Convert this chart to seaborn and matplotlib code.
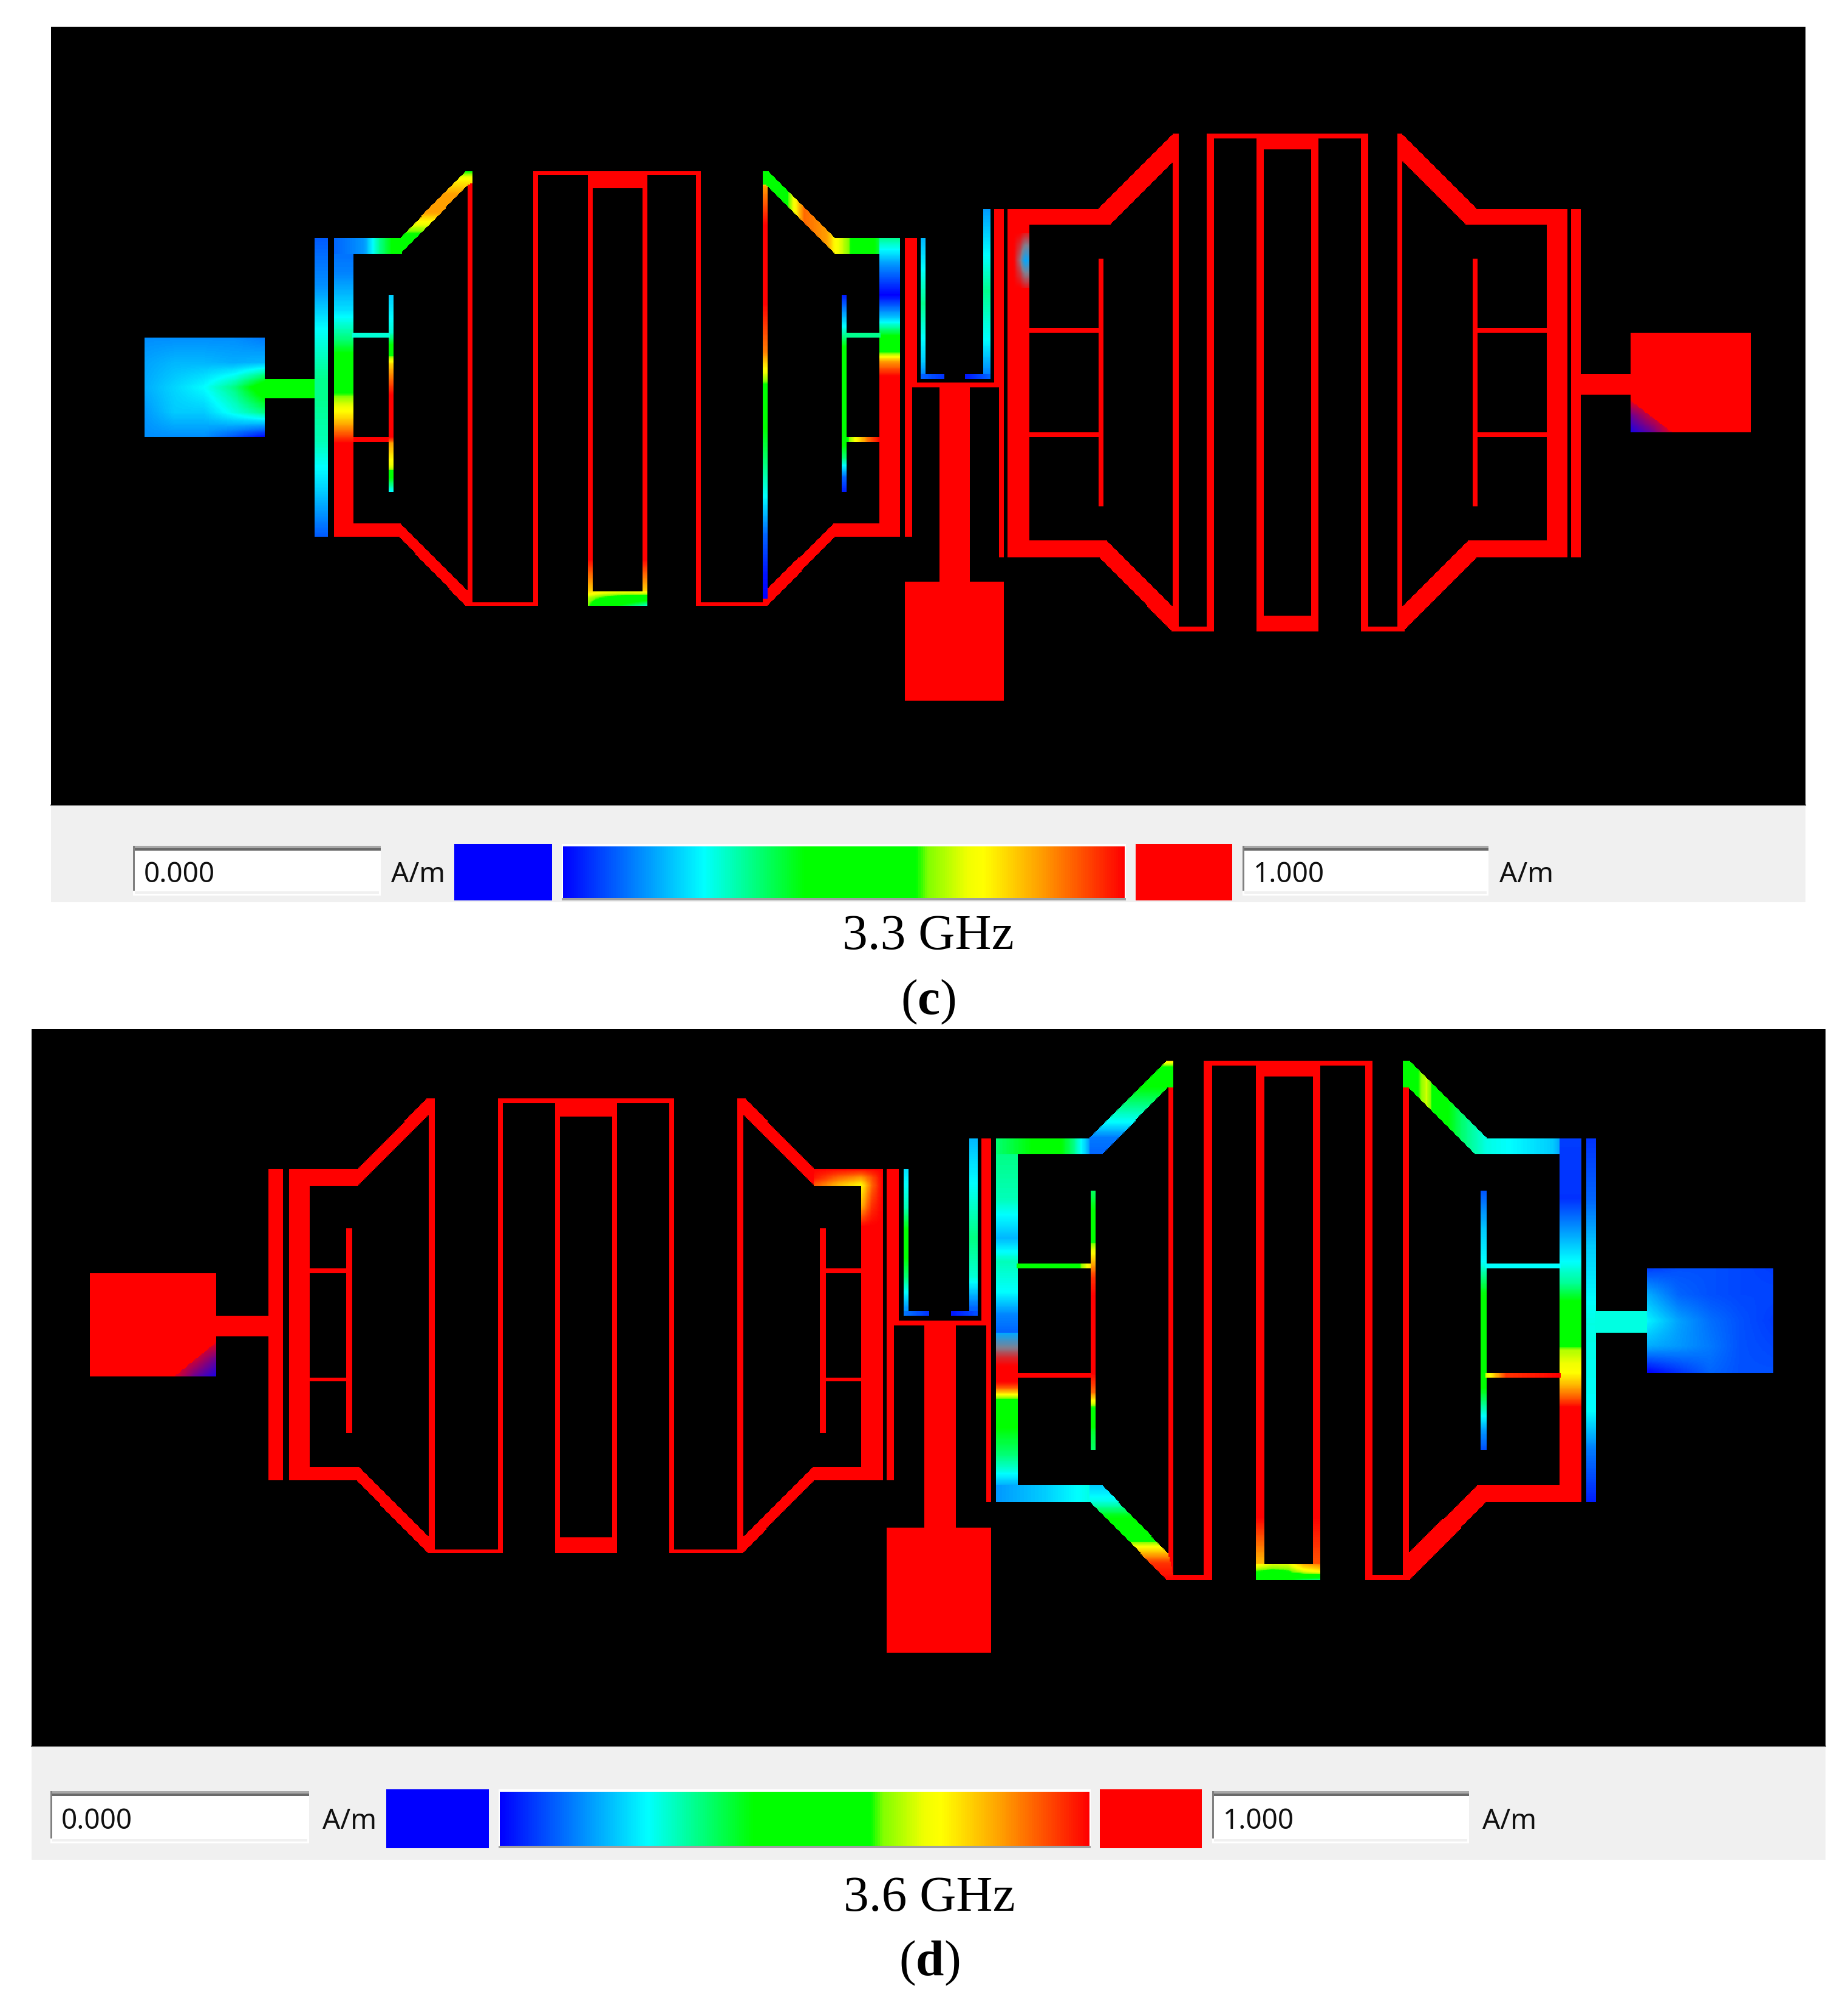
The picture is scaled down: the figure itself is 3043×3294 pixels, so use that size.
import numpy as np
import seaborn as sns
import matplotlib.pyplot as plt
from matplotlib.colors import LinearSegmentedColormap
from matplotlib.patches import Rectangle
from matplotlib.path import Path

W, H = 3043, 3294
STEP = 2

# colour scale of the field plot, level -> colour
scale_pos = [0, 0.25, 0.43, 0.63, 0.65, 0.72, 0.75, 0.85, 1]
scale_col = ["#0000ff", "#00ffff", "#00ff00", "#00ff00", "#80ff00", "#f0ff00", "#ffff00", "#ffa000", "#ff0000"]
# second scale for the muddy spots where the plot blends blue / grey into red
blend_pos = [0, 0.5, 0.75, 1]
blend_col = ["#0000ff", "#ff0000", "#808090", "#00a8ff"]

panel_names = ["c", "d"]
freq_labels = ["3.3 GHz", "3.6 GHz"]
min_label = "0.000"
max_label = "1.000"
unit_label = "A/m"

# ---------- panel (c), all in image pixels ----------
c_frame = (84, 2973, 44, 1326)
c_band = 1486
c_red_rects = [
    (771, 778, 281, 998), (767, 886, 991, 998), (879, 886, 281, 998), (879, 1154, 281, 287),
    (1147, 1154, 281, 998), (1147, 1264, 991, 998), (968, 975, 287, 998), (1058, 1065, 287, 998),
    (968, 1065, 281, 309), (551, 581, 730, 883), (551, 659, 861, 883), (1375, 1482, 861, 883),
    (1449, 1482, 620, 883), (581, 641, 720, 727),
    (1490, 1509, 392, 630), (1490, 1501, 630, 883), (1490, 1654, 630, 638), (1639, 1654, 343, 630),
    (1646, 1654, 630, 917), (1549, 1598, 638, 958), (1490, 1654, 958, 1154),
    (1661, 1695, 343, 917), (1661, 1811, 343, 369), (1661, 1811, 890, 917), (1933, 1941, 220, 1039),
    (1930, 2000, 1032, 1039), (1989, 2000, 220, 1039), (1989, 2254, 220, 228), (2242, 2254, 220, 1039),
    (2242, 2313, 1032, 1039), (2302, 2310, 220, 1039), (2071, 2082, 220, 1039), (2161, 2172, 220, 1039),
    (2071, 2172, 220, 246), (2071, 2172, 1014, 1039), (2433, 2582, 343, 369), (2433, 2582, 890, 917),
    (2548, 2582, 343, 917), (2589, 2604, 343, 917), (2604, 2686, 615, 649), (2686, 2883, 548, 711),
    (1811, 1818, 425, 834), (1695, 1811, 540, 548), (1695, 1811, 712, 720), (2426, 2433, 425, 834),
    (2433, 2548, 540, 548), (2433, 2548, 712, 720),
]
c_red_polys = [
    [(659, 861), (771, 974), (778, 974), (778, 998), (767, 998), (656, 883)],
    [(1258, 974), (1375, 861), (1375, 883), (1264, 998), (1256, 998), (1256, 974)],
    [(1811, 343), (1933, 220), (1941, 220), (1941, 265), (1933, 265), (1829, 369), (1811, 369)],
    [(1823, 890), (1933, 999), (1941, 1032), (1941, 1039), (1930, 1039), (1811, 917), (1811, 890)],
    [(2433, 343), (2310, 220), (2302, 220), (2302, 265), (2310, 265), (2414, 369), (2433, 369)],
    [(2418, 890), (2310, 999), (2302, 999), (2302, 1039), (2313, 1039), (2433, 917), (2433, 890)],
]
# (x0, x1, y0, y1), axis the level runs along, stop positions, levels
c_graded_rects = [
    ((435, 518, 623, 656), "x", [435, 518], [0.5, 0.5]),
    ((518, 540, 392, 883), "y", [392, 470, 540, 623, 656, 730, 810, 883], [0.09, 0.14, 0.25, 0.33, 0.33, 0.3, 0.2, 0.09]),
    ((551, 581, 392, 730), "y", [392, 450, 510, 560, 600, 640, 660, 690, 715, 730], [0.1, 0.13, 0.22, 0.35, 0.5, 0.6, 0.68, 0.8, 0.92, 1]),
    ((551, 659, 392, 417), "x", [551, 600, 625, 659], [0.1, 0.15, 0.33, 0.5]),
    ((641, 648, 485, 809), "y", [485, 547, 570, 600, 650, 720, 730, 770, 790, 809], [0.2, 0.28, 0.45, 0.8, 1, 1, 0.85, 0.7, 0.4, 0.25]),
    ((581, 641, 547, 555), "x", [581, 641], [0.28, 0.28]),
    ((968, 975, 900, 973), "y", [920, 973], [1, 0.8]),
    ((1058, 1065, 900, 973), "y", [920, 973], [1, 0.8]),
    ((1256, 1263, 281, 998), "y", [281, 307, 371, 499, 580, 628, 658, 754, 818, 881, 945, 985, 986], [0.5, 0.85, 1, 1, 0.88, 0.65, 0.5, 0.36, 0.25, 0.1, 0.02, 0, 1]),
    ((1375, 1482, 392, 417), "x", [1375, 1419, 1449, 1482], [0.75, 0.55, 0.38, 0.33]),
    ((1449, 1482, 392, 620), "y", [392, 435, 486, 524, 556, 575, 595, 620], [0.33, 0.15, 0, 0.2, 0.45, 0.55, 0.85, 1]),
    ((1386, 1393, 485, 809), "y", [485, 537, 575, 716, 754, 786, 809], [0.02, 0.25, 0.45, 0.5, 0.35, 0.1, 0.03]),
    ((1393, 1449, 547, 555), "x", [1393, 1449], [0.33, 0.33]),
    ((1393, 1449, 720, 727), "x", [1393, 1410, 1430, 1449], [0.6, 0.75, 0.9, 1]),
    ((1516, 1523, 392, 620), "y", [392, 500, 595, 620], [0.18, 0.33, 0.2, 0.12]),
    ((1516, 1556, 615, 623), "x", [1516, 1556], [0.1, 0.05]),
    ((1620, 1631, 343, 620), "y", [343, 480, 560, 620], [0.15, 0.33, 0.25, 0.12]),
    ((1590, 1631, 615, 623), "x", [1590, 1631], [0.02, 0.1]),
]
c_graded_polys = [
    ([(659, 392), (767, 281), (778, 281), (778, 301), (771, 304), (661, 417), (659, 417)], "y",
     [281, 295, 320, 350, 380, 417], [0.6, 0.75, 0.85, 0.85, 0.65, 0.5]),
    ([(1256, 281), (1264, 281), (1375, 392), (1375, 417), (1262, 304), (1256, 304)], "x",
     [1256, 1295, 1324, 1362, 1375], [0.5, 0.6, 0.9, 0.85, 0.75]),
]
# (x0, x1, y0, y1), stops along x, stops along y, level rows
c_port_patch = ((238, 435, 556, 720), [238, 287, 336, 386, 435], [556, 597, 638, 679, 720],
                [[0.14, 0.14, 0.14, 0.14, 0.12], [0.16, 0.18, 0.18, 0.17, 0.18], [0.17, 0.21, 0.25, 0.34, 0.5],
                 [0.15, 0.2, 0.2, 0.27, 0.34], [0.14, 0.14, 0.14, 0.08, 0]])
c_tube_patch = ((968, 1065, 973, 998), [968, 992, 1016, 1040, 1065], [973, 985, 998],
                [[0.8, 0.76, 0.75, 0.76, 0.8], [0.68, 0.62, 0.58, 0.55, 0.5], [0.65, 0.5, 0.42, 0.35, 0.28]])
c_blob_patch = ((1670, 1695, 384, 473), [1670, 1680, 1689, 1695], [384, 410, 429, 450, 473],
                [[0.5, 0.5, 0.55, 0.55], [0.5, 0.62, 0.8, 0.8], [0.5, 0.7, 1, 0.95], [0.5, 0.6, 0.75, 0.75], [0.5, 0.5, 0.55, 0.55]])
c_corner = ([(2686, 660), (2753, 711), (2686, 711)], [2686, 2720, 2753], [660, 685, 711],
            [[0.45, 0.5, 0.5], [0.2, 0.4, 0.5], [0.05, 0.2, 0.45]])

# ---------- panel (d) ----------
d_frame = (52, 3006, 1695, 2876)
d_band = 3063
d_red_rects = [
    (149, 356, 2096, 2267), (356, 442, 2166, 2201), (442, 466, 1925, 2439), (477, 509, 1925, 2439),
    (477, 590, 1925, 1952), (477, 590, 2416, 2439), (707, 715, 1808, 2559), (704, 828, 2552, 2559),
    (820, 828, 1808, 2559), (820, 1109, 1808, 1816), (1102, 1109, 1808, 2559), (1102, 1222, 2552, 2559),
    (1215, 1223, 1808, 2559), (914, 922, 1808, 2559), (1008, 1016, 1808, 2559), (914, 1016, 1808, 1839),
    (914, 1016, 2532, 2559), (1340, 1453, 1925, 1952), (1340, 1453, 2416, 2439), (1418, 1453, 1925, 2439),
    (571, 579, 2022, 2361), (509, 571, 2089, 2096), (509, 571, 2268, 2275), (1351, 1359, 2022, 2361),
    (1359, 1418, 2089, 2096), (1359, 1418, 2268, 2275),
    (1460, 1480, 1925, 2174), (1460, 1472, 2174, 2439), (1460, 1632, 2174, 2182), (1616, 1632, 1874, 2174),
    (1624, 1632, 2174, 2474), (1523, 1574, 2182, 2517), (1460, 1632, 2517, 2722),
    (1924, 1932, 1746, 2603), (1921, 1995, 2595, 2603), (1983, 1995, 1746, 2603), (1983, 2260, 1746, 1754),
    (2248, 2260, 1746, 2603), (2248, 2322, 2595, 2603), (2311, 2319, 1746, 2603), (2069, 2081, 1746, 2603),
    (2162, 2174, 1746, 2603), (2069, 2174, 1746, 1773), (1675, 1796, 2260, 2268), (2448, 2604, 2447, 2474),
    (2569, 2604, 2319, 2474),
]
d_red_polys = [
    [(590, 1925), (704, 1808), (715, 1808), (707, 1835), (590, 1952)],
    [(590, 2416), (707, 2533), (715, 2559), (704, 2559), (587, 2439)],
    [(1215, 1808), (1226, 1808), (1340, 1925), (1340, 1952), (1223, 1835)],
    [(1340, 2416), (1223, 2533), (1215, 2559), (1223, 2559), (1340, 2439)],
    [(2433, 2447), (2319, 2559), (2311, 2559), (2311, 2603), (2322, 2603), (2448, 2474), (2448, 2447)],
]
d_graded_rects = [
    ((1488, 1495, 1925, 2160), "y", [1925, 1988, 2045, 2103, 2154], [0.22, 0.3, 0.5, 0.35, 0.15]),
    ((1488, 1530, 2159, 2166), "x", [1488, 1530], [0.12, 0.05]),
    ((1597, 1609, 1874, 2160), "y", [1874, 2039, 2103, 2154], [0.18, 0.34, 0.28, 0.1]),
    ((1566, 1609, 2159, 2166), "x", [1566, 1609], [0.02, 0.08]),
    ((1640, 1675, 1874, 2195), "y", [1874, 1975, 2039, 2077, 2128, 2166, 2195], [0.35, 0.3, 0.18, 0.3, 0.25, 0.13, 0.1]),
    ((1640, 1675, 2250, 2474), "y", [2250, 2275, 2288, 2307, 2316, 2358, 2396, 2421, 2453, 2474], [1, 1, 0.9, 0.6, 0.5, 0.42, 0.35, 0.28, 0.15, 0.12]),
    ((1640, 1815, 1874, 1901), "x", [1640, 1736, 1766, 1795, 1815], [0.35, 0.48, 0.35, 0.15, 0.12]),
    ((1640, 1795, 2447, 2474), "x", [1640, 1718, 1795], [0.15, 0.2, 0.27]),
    ((1796, 1804, 1960, 2388), "y", [1960, 2026, 2064, 2103, 2135, 2262, 2294, 2326, 2358, 2388], [0.36, 0.5, 0.75, 0.95, 1, 1, 0.9, 0.55, 0.4, 0.36]),
    ((1675, 1796, 2081, 2089), "x", [1675, 1765, 1780, 1796], [0.5, 0.5, 0.65, 0.78]),
    ((2069, 2081, 2500, 2576), "y", [2500, 2576], [1, 0.82]),
    ((2162, 2174, 2500, 2576), "y", [2500, 2576], [1, 0.92]),
    ((2448, 2604, 1874, 1901), "x", [2448, 2487, 2557, 2604], [0.27, 0.25, 0.2, 0.05]),
    ((2569, 2604, 1874, 2319), "y", [1874, 1975, 2026, 2077, 2115, 2154, 2205, 2224, 2262, 2300, 2319], [0.06, 0.05, 0.15, 0.25, 0.33, 0.47, 0.5, 0.68, 0.75, 0.9, 1]),
    ((2439, 2447, 1960, 2388), "y", [1960, 2026, 2077, 2128, 2198, 2268, 2307, 2358, 2388], [0.08, 0.2, 0.25, 0.42, 0.5, 0.5, 0.36, 0.15, 0.08]),
    ((2447, 2569, 2081, 2089), "x", [2447, 2569], [0.25, 0.25]),
    ((2447, 2569, 2260, 2268), "x", [2447, 2480, 2569], [0.7, 0.95, 1]),
    ((2612, 2627, 1874, 2474), "y", [1874, 1975, 2052, 2179, 2326, 2390, 2474], [0.05, 0.1, 0.2, 0.27, 0.25, 0.12, 0.03]),
    ((2627, 2713, 2159, 2194), "x", [2627, 2713], [0.27, 0.27]),
]
d_graded_polys = [
    ([(1795, 1874), (1921, 1746), (1932, 1746), (1932, 1790), (1924, 1790), (1815, 1901), (1795, 1901)], "y",
     [1746, 1758, 1784, 1816, 1848, 1874, 1901], [0.8, 0.6, 0.45, 0.35, 0.25, 0.12, 0.1]),
    ([(1815, 2447), (1924, 2560), (1932, 2595), (1932, 2603), (1921, 2603), (1795, 2474), (1795, 2447)], "y",
     [2447, 2474, 2498, 2530, 2549, 2575, 2603], [0.2, 0.27, 0.42, 0.5, 0.75, 0.95, 1]),
    ([(2311, 1746), (2319, 1746), (2448, 1874), (2448, 1901), (2428, 1901), (2319, 1790), (2311, 1790)], "x",
     [2311, 2349, 2379, 2408, 2448], [0.5, 0.7, 0.45, 0.35, 0.27]),
]
d_port_patch = ((2713, 2919, 2089, 2260), [2713, 2764, 2816, 2867, 2919], [2089, 2132, 2175, 2217, 2260],
                [[0.06, 0.08, 0.08, 0.07, 0.06], [0.17, 0.1, 0.08, 0.07, 0.07], [0.24, 0.16, 0.11, 0.08, 0.06],
                 [0.17, 0.15, 0.12, 0.08, 0.07], [0, 0.05, 0.1, 0.08, 0.08]])
d_tube_patch = ((2069, 2174, 2576, 2603), [2069, 2095, 2121, 2147, 2174], [2576, 2590, 2603],
                [[0.78, 0.72, 0.72, 0.85, 0.9], [0.62, 0.6, 0.62, 0.7, 0.75], [0.45, 0.45, 0.43, 0.36, 0.32]])
# glow in the upper right corner of the left filter, only inside the copper
d_glow_shape = [(1340, 1925), (1453, 1925), (1453, 2020), (1418, 2020), (1418, 1952), (1340, 1952)]
d_glow_x = [1340, 1380, 1418, 1435, 1453]
d_glow_y = [1925, 1940, 1952, 1985, 2020]
d_glow_levels = [[1, 1, 1, 1, 1], [0.98, 0.9, 0.85, 0.92, 1], [0.92, 0.82, 0.75, 0.9, 1], [1, 0.9, 0.82, 0.95, 1], [1, 1, 1, 1, 1]]
d_corner = ([(356, 2211), (287, 2267), (356, 2267)], [287, 322, 356], [2211, 2239, 2267],
            [[0.5, 0.5, 0.45], [0.5, 0.4, 0.2], [0.45, 0.2, 0.05]])
d_smudge = ((1640, 1675, 2195, 2250), [2195, 2215, 2235, 2250], [1, 0.8, 0.58, 0.5])

# the legend strip of each panel
c_strip = dict(box1=(219, 627), box2=(2046, 2451), box_y=(1393, 1475), blue=(748, 909), red=(1870, 2029),
               swatch_y=(1390, 1483), bar=(927, 1852), bar_y=(1394, 1479), unit1=644, unit2=2469,
               cap_y=(1543, 1650), cap_x=1528)
d_strip = dict(box1=(83, 509), box2=(1996, 2419), box_y=(2950, 3036), blue=(636, 805), red=(1811, 1979),
               swatch_y=(2947, 3044), bar=(823, 1794), bar_y=(2951, 3040), unit1=531, unit2=2441,
               cap_y=(3127, 3233), cap_x=1530)

plt.rcParams["mathtext.fontset"] = "custom"
plt.rcParams["mathtext.rm"] = "Liberation Serif"
plt.rcParams["mathtext.bf"] = "Liberation Serif:bold"

field_cmap = LinearSegmentedColormap.from_list("field", list(zip(scale_pos, scale_col)))
blend_cmap = LinearSegmentedColormap.from_list("blend", list(zip(blend_pos, blend_col)))


def ax_at(fig, x0, x1, y0, y1):
    return fig.add_axes([x0 / W, 1 - y1 / H, (x1 - x0) / W, (y1 - y0) / H])


def rect_poly(r):
    return [(r[0], r[2]), (r[1], r[2]), (r[1], r[3]), (r[0], r[3])]


class Field:
    def __init__(self, frame):
        self.xs = np.arange(frame[0], frame[1], STEP) + STEP / 2
        self.ys = np.arange(frame[2], frame[3], STEP) + STEP / 2
        self.main = np.full((len(self.ys), len(self.xs)), np.nan)
        self.blend = np.full_like(self.main, np.nan)

    def cells(self, poly):
        poly = np.array(poly, dtype=float)
        ix = np.where((self.xs >= poly[:, 0].min()) & (self.xs <= poly[:, 0].max()))[0]
        iy = np.where((self.ys >= poly[:, 1].min()) & (self.ys <= poly[:, 1].max()))[0]
        gx, gy = np.meshgrid(self.xs[ix], self.ys[iy])
        inside = Path(poly).contains_points(np.c_[gx.ravel(), gy.ravel()]).reshape(gx.shape)
        return iy[np.where(inside)[0]], ix[np.where(inside)[1]]

    def flat(self, poly, level=1.0):
        iy, ix = self.cells(poly)
        self.main[iy, ix] = level
        self.blend[iy, ix] = np.nan

    def graded(self, poly, axis, pos, levels, layer="main"):
        iy, ix = self.cells(poly)
        where = self.xs[ix] if axis == "x" else self.ys[iy]
        getattr(self, layer)[iy, ix] = np.interp(where, pos, levels)

    def patch(self, poly, gx, gy, rows, layer="main"):
        iy, ix = self.cells(poly)
        rows = np.array(rows, dtype=float)
        out = getattr(self, layer)
        for j, i in zip(iy, ix):
            col = [np.interp(self.ys[j], gy, rows[:, k]) for k in range(rows.shape[1])]
            out[j, i] = np.interp(self.xs[i], gx, col)


def build_c():
    f = Field(c_frame)
    for r in c_red_rects:
        f.flat(rect_poly(r))
    for p in c_red_polys:
        f.flat(p)
    for r, axis, pos, lv in c_graded_rects:
        f.graded(rect_poly(r), axis, pos, lv)
    for p, axis, pos, lv in c_graded_polys:
        f.graded(p, axis, pos, lv)
    for r, gx, gy, rows in [c_port_patch, c_tube_patch]:
        f.patch(rect_poly(r), gx, gy, rows)
    r, gx, gy, rows = c_blob_patch
    f.patch(rect_poly(r), gx, gy, rows, layer="blend")
    p, gx, gy, rows = c_corner
    f.patch(p, gx, gy, rows, layer="blend")
    return f


def build_d():
    f = Field(d_frame)
    for r in d_red_rects:
        f.flat(rect_poly(r))
    for p in d_red_polys:
        f.flat(p)
    for r, axis, pos, lv in d_graded_rects:
        f.graded(rect_poly(r), axis, pos, lv)
    for p, axis, pos, lv in d_graded_polys:
        f.graded(p, axis, pos, lv)
    for r, gx, gy, rows in [d_port_patch, d_tube_patch]:
        f.patch(rect_poly(r), gx, gy, rows)
    f.patch(d_glow_shape, d_glow_x, d_glow_y, d_glow_levels)
    r, pos, lv = d_smudge
    f.graded(rect_poly(r), "y", pos, lv, layer="blend")
    p, gx, gy, rows = d_corner
    f.patch(p, gx, gy, rows, layer="blend")
    return f


def draw_field(fig, frame, f):
    ax = ax_at(fig, frame[0], frame[1], frame[2], frame[3])
    ax.set_facecolor("black")
    sns.heatmap(f.main, cmap=field_cmap, vmin=0, vmax=1, cbar=False, xticklabels=False, yticklabels=False, ax=ax)
    sns.heatmap(f.blend, cmap=blend_cmap, vmin=0, vmax=1, cbar=False, xticklabels=False, yticklabels=False, ax=ax)
    ax.set_xlabel("")
    ax.set_ylabel("")


def draw_box(bg, x, y, text, unit_x):
    bg.add_patch(Rectangle((x[0], y[0]), x[1] - x[0], y[1] - y[0], fc="white", ec="none"))
    bg.add_patch(Rectangle((x[0], y[0]), x[1] - x[0], 4, fc="#a8a8a8", ec="none"))
    bg.add_patch(Rectangle((x[0], y[0] + 4), x[1] - x[0], 4, fc="#696969", ec="none"))
    bg.add_patch(Rectangle((x[0], y[0]), 3, y[1] - y[0] - 8, fc="#808080", ec="none"))
    bg.add_patch(Rectangle((x[0] + 3, y[1] - 7), x[1] - x[0] - 6, 4, fc="#f0f0f0", ec="none"))
    mid = (y[0] + y[1]) / 2 + 7
    bg.text(x[0] + 18, mid, text, family="Noto Sans", fontsize=33, ha="left", va="center", color="#101010")
    bg.text(unit_x, mid, unit_label, family="Noto Sans", fontsize=33, ha="left", va="center", color="#101010")


def draw_strip(fig, bg, frame, band, s, freq, name):
    bg.add_patch(Rectangle((frame[0], frame[3]), frame[1] - frame[0], band - frame[3], fc="#f0f0f0", ec="none"))
    bg.plot([frame[0], frame[1]], [frame[3], frame[3]], color="#707070", lw=1.5)
    draw_box(bg, s["box1"], s["box_y"], min_label, s["unit1"])
    draw_box(bg, s["box2"], s["box_y"], max_label, s["unit2"])
    sy = s["swatch_y"]
    bg.add_patch(Rectangle((s["blue"][0], sy[0]), s["blue"][1] - s["blue"][0], sy[1] - sy[0], fc="#0000ff", ec="none"))
    bg.add_patch(Rectangle((s["red"][0], sy[0]), s["red"][1] - s["red"][0], sy[1] - sy[0], fc="#ff0000", ec="none"))
    bg.add_patch(Rectangle((s["bar"][0] - 2, sy[0]), s["bar"][1] - s["bar"][0] + 4, sy[1] - sy[0], fc="white", ec="none"))
    bg.add_patch(Rectangle((s["bar"][0] - 2, s["bar_y"][1]), s["bar"][1] - s["bar"][0] + 4, sy[1] - s["bar_y"][1], fc="#a0a0a0", ec="none"))

    cax = ax_at(fig, s["bar"][0], s["bar"][1], s["bar_y"][0], s["bar_y"][1])
    sns.heatmap(np.linspace(0, 1, 256)[None, :], cmap=field_cmap, vmin=0, vmax=1, cbar=False,
                xticklabels=False, yticklabels=False, ax=cax)

    bg.text(s["cap_x"], s["cap_y"][0], freq, family="Liberation Serif", fontsize=60, ha="center", va="center", color="black")
    bg.text(s["cap_x"], s["cap_y"][1], "($\\mathbf{%s}$)" % name, family="Liberation Serif", fontsize=60, ha="center", va="center", color="black")


fig = plt.figure(figsize=(W / 100, H / 100), dpi=100, facecolor="white")
bg = fig.add_axes([0, 0, 1, 1])
bg.set_xlim(0, W)
bg.set_ylim(H, 0)
bg.axis("off")

draw_field(fig, c_frame, build_c())
draw_field(fig, d_frame, build_d())
draw_strip(fig, bg, c_frame, c_band, c_strip, freq_labels[0], panel_names[0])
draw_strip(fig, bg, d_frame, d_band, d_strip, freq_labels[1], panel_names[1])

fig.savefig("out.png", dpi=100)
